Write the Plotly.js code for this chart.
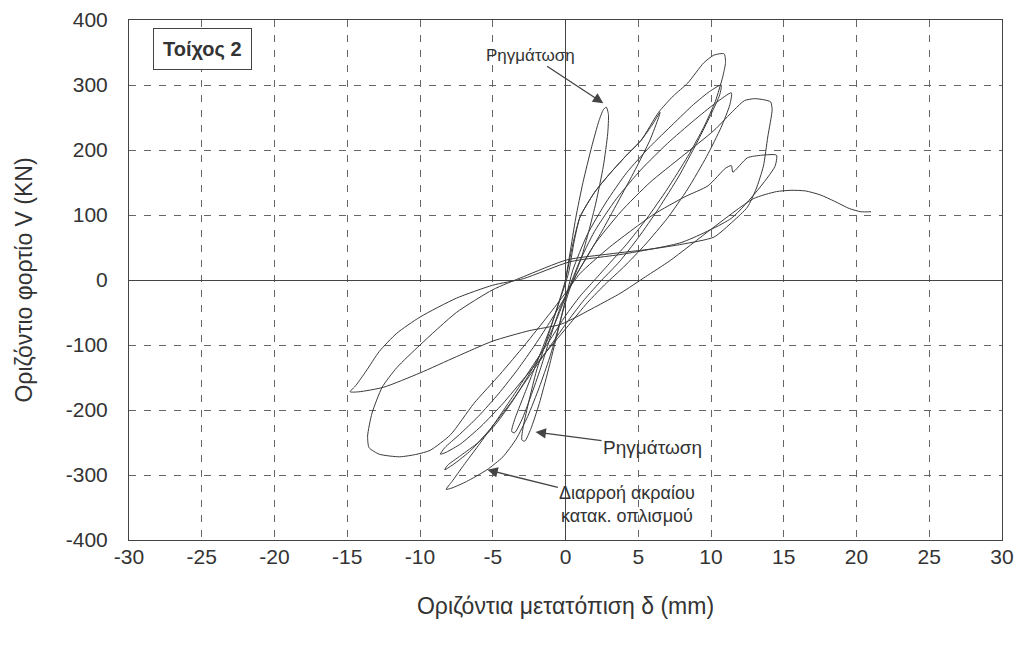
<!DOCTYPE html>
<html>
<head>
<meta charset="utf-8">
<script src="https://cdn.plot.ly/plotly-3.0.1.min.js"></script>
<style>html,body{margin:0;padding:0;background:#fff;}#chart{width:1018px;height:650px;}</style>
</head>
<body>
<div id="chart"></div>
<script>
// Cycle 1: cracking cycle (about +/-3 mm)
const c1x = [0, 0.3, 0.7, 1.2, 1.8, 2.3, 2.6, 2.8, 2.95, 2.9, 2.6, 2.1, 1.6, 1.1, 0.6, 0.2, -0.2, -0.7, -1.2, -1.8, -2.4, -2.8, -3.0, -2.9, -2.5, -2.0, -1.4, -0.9, -0.4, 0];
const c1y = [0, 40, 95, 150, 205, 245, 262, 266, 255, 225, 175, 120, 75, 35, 5, -20, -50, -95, -140, -190, -230, -248, -246, -225, -185, -140, -100, -65, -30, 0];
// Cycle 2: +6.5 / -3.7 mm
const c2x = [0.5, 1.0, 2.0, 3.1, 4.2, 5.2, 6.0, 6.5, 6.4, 5.8, 4.8, 3.6, 2.5, 1.6, 0.8, 0.2, -0.4, -1.0, -1.7, -2.4, -3.0, -3.5, -3.7, -3.5, -2.9, -2.2, -1.5, -0.9, -0.3, 0.2];
const c2y = [55, 97, 135, 165, 192, 215, 240, 258, 250, 215, 170, 120, 75, 40, 10, -15, -45, -85, -135, -180, -215, -235, -233, -215, -180, -140, -100, -65, -25, 10];
// Cycle 3: +10.9 / -8.2 mm
const c3x = [0.6, 1.0, 2.0, 3.1, 4.2, 5.2, 6.4, 7.4, 8.4, 9.5, 10.2, 10.9, 11.0, 10.8, 10.3, 9.5, 8.4, 7.0, 5.6, 4.2, 3.0, 2.0, 1.0, 0, -1.0, -2.2, -3.5, -4.8, -6.0, -7.0, -7.8, -8.2, -7.8, -6.8, -5.4, -4.3, -3.4, -2.6, -1.8, -1.1, -0.5, 0, 0.5];
const c3y = [60, 97, 135, 165, 192, 215, 258, 283, 303, 334, 346, 348, 335, 312, 275, 235, 190, 140, 95, 55, 25, 0, -25, -55, -90, -130, -175, -218, -255, -285, -310, -322, -320, -310, -292, -272, -245, -210, -165, -120, -75, -30, 15];
// Cycle 4: +10.7 / -8.3 mm
const c4x = [1.5, 2.8, 4.2, 5.8, 7.4, 8.8, 9.9, 10.7, 10.6, 10.0, 9.0, 7.8, 6.4, 5.0, 3.7, 2.5, 1.3, 0.2, -1.0, -2.4, -3.8, -5.2, -6.5, -7.6, -8.3, -8.1, -7.2, -6.0, -4.8, -3.6, -2.5, -1.5, -0.6, 0.2, 0.9];
const c4y = [70, 120, 165, 205, 240, 270, 290, 300, 285, 255, 210, 160, 110, 65, 28, 0, -30, -62, -100, -145, -190, -230, -262, -282, -292, -285, -270, -250, -222, -185, -145, -105, -60, -15, 25];
// Cycle 5: +11.4 / -8.6 mm
const c5x = [2.0, 3.5, 5.2, 7.0, 8.8, 10.3, 11.4, 11.3, 10.7, 9.7, 8.4, 7.0, 5.5, 4.0, 2.8, 1.5, 0.2, -1.3, -2.8, -4.3, -5.8, -7.2, -8.2, -8.6, -8.3, -7.3, -6.0, -4.6, -3.3, -2.1, -1.0, 0, 0.8];
const c5y = [75, 125, 170, 210, 245, 272, 288, 270, 235, 190, 140, 95, 55, 20, -5, -35, -70, -110, -150, -190, -225, -252, -265, -268, -258, -238, -210, -175, -138, -100, -62, -25, 10];
// Cycle 6: +14.1 / -13.6 mm
const c6x = [2.0, 3.8, 5.8, 8.0, 10.2, 11.6, 12.3, 13.0, 13.7, 14.1, 14.2, 13.9, 13.6, 13.1, 12.5, 11.5, 10.2, 8.0, 6.0, 3.0, 0.1, -2.9, -5.0, -7.5, -10.0, -11.6, -12.6, -13.3, -13.6, -13.5, -12.8, -11.4, -10.2, -9.3, -7.9, -6.3, -4.5, -2.8, -1.2, 0, 1.0];
const c6y = [55, 105, 150, 190, 230, 262, 276, 279, 277, 274, 262, 220, 175, 140, 112, 90, 66, 55, 48, 40, 31, 5, -15, -50, -100, -135, -165, -205, -240, -258, -268, -272, -268, -262, -238, -190, -145, -100, -55, -20, 10];
// Cycle 7: +14.5 / -14.8 mm
const c7x = [3.0, 6.0, 8.2, 9.8, 11.0, 11.4, 11.5, 12.5, 13.5, 14.5, 14.4, 13.2, 11.4, 8.0, 4.0, 0.3, -2.9, -5.0, -7.5, -10.0, -11.6, -12.8, -13.7, -14.4, -14.8, -14.2, -12.5, -10.0, -7.5, -5.0, -2.5, -0.3, 2.0, 3.8, 5.5, 7.2];
const c7y = [50, 100, 128, 145, 172, 176, 166, 188, 192, 192, 175, 138, 95, 58, 40, 28, 2, -8, -28, -57, -82, -110, -140, -162, -172, -172, -165, -143, -118, -94, -78, -68, -42, -20, 5, 30];
// Final push to +21 mm
const c8x = [10.0, 12.9, 14.5, 15.5, 16.5, 17.5, 18.5, 19.5, 20.3, 21.0];
const c8y = [78, 125, 136, 138, 137, 131, 121, 110, 105, 105];

const xTicks = [-30, -25, -20, -15, -10, -5, 0, 5, 10, 15, 20, 25, 30];
const yTicks = [-400, -300, -200, -100, 0, 100, 200, 300, 400];

const xs = [].concat(c1x, c2x, c3x, c4x, c5x, c6x, c7x, c8x);
const ys = [].concat(c1y, c2y, c3y, c4y, c5y, c6y, c7y, c8y);

const FONT = 'Liberation Sans, Arial, sans-serif';
const trace = {
  x: xs, y: ys, type: 'scatter', mode: 'lines',
  line: {color: '#3a3a3a', width: 1, shape: 'spline', smoothing: 0.6},
  hoverinfo: 'skip', showlegend: false
};

const axisCommon = {
  showline: true, mirror: true, linecolor: '#444', linewidth: 1,
  showgrid: true, gridcolor: '#666', gridwidth: 1, griddash: '7px,8px',
  zeroline: true, zerolinecolor: '#444', zerolinewidth: 1,
  ticks: '', tickfont: {family: FONT, size: 21, color: '#333'},
  tickmode: 'array'
};

const layout = {
  width: 1018, height: 650,
  margin: {l: 129, r: 16, t: 20, b: 110},
  paper_bgcolor: '#fff', plot_bgcolor: '#fff',
  font: {family: FONT, color: '#333'},
  xaxis: Object.assign({}, axisCommon, {
    range: [-30, 30], tickvals: xTicks, ticktext: xTicks.map(String),
    ticklabelstandoff: -2,
    title: {text: 'Οριζόντια μετατόπιση δ (mm)', font: {family: FONT, size: 23, color: '#333'}, standoff: 30}
  }),
  yaxis: Object.assign({}, axisCommon, {
    range: [-400, 400], tickvals: yTicks, ticktext: yTicks.map(String),
    ticklabelstandoff: 16,
    title: {text: 'Οριζόντιο φορτίο V (KN)', font: {family: FONT, size: 23, color: '#333'}, standoff: 26}
  }),
  annotations: [
    {xref: 'paper', yref: 'paper', x: 0.0845, y: 0.944, xanchor: 'center', yanchor: 'middle',
     text: '<b>Τοίχος 2</b>', showarrow: false,
     font: {family: FONT, size: 20, color: '#333'}, bordercolor: '#444', borderwidth: 1, borderpad: 9, bgcolor: '#fff'},
    {x: 2.6, y: 272, xref: 'x', yref: 'y', text: 'Ρηγμάτωση', showarrow: true, ax: -73, ay: -48,
     arrowhead: 2, arrowsize: 1.6, arrowwidth: 1.3, arrowcolor: '#444', font: {family: FONT, size: 17, color: '#333'}},
    {x: -2.06, y: -234, xref: 'x', yref: 'y', text: 'Ρηγμάτωση', showarrow: true, ax: 117, ay: 15,
     arrowhead: 2, arrowsize: 1.6, arrowwidth: 1.3, arrowcolor: '#444', font: {family: FONT, size: 19, color: '#333'}},
    {x: -5.37, y: -292, xref: 'x', yref: 'y', text: 'Διαρροή ακραίου<br>κατακ. οπλισμού', showarrow: true, ax: 140, ay: 35,
     arrowhead: 2, arrowsize: 1.6, arrowwidth: 1.3, arrowcolor: '#444', align: 'center', font: {family: FONT, size: 18, color: '#333'}}
  ]
};

Plotly.newPlot('chart', [trace], layout, {displayModeBar: false, staticPlot: true});
</script>
</body>
</html>
